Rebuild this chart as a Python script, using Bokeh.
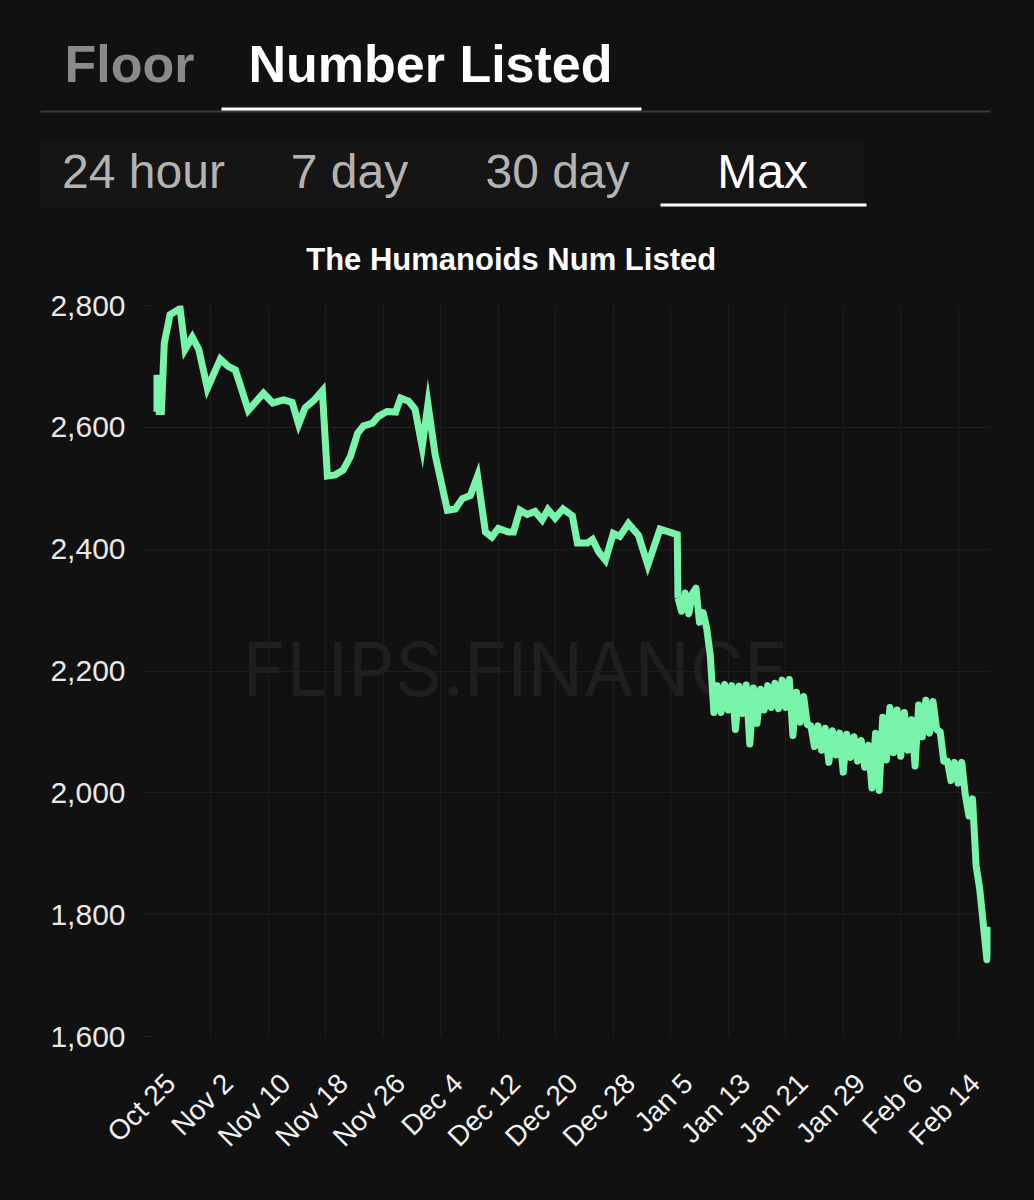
import math
import pandas as pd
from bokeh.plotting import figure
from bokeh.models import (Range1d, FixedTicker, NumeralTickFormatter, Label, BoxAnnotation,
                          DatetimeAxis, Grid)
from bokeh.embed import file_html
from bokeh.resources import INLINE

# ---------------- data ----------------
start_date = "2021-10-25"

# days since Oct 25 (early, roughly daily readings)
early_day_offset = [0.0, 0.3, 0.6, 0.8, 1.1, 1.5, 2.3, 3.7, 4.4, 5.4, 6.3, 7.5, 9.3, 10.4, 11.4,
                    13.2, 15.3, 16.6, 18.1, 19.3, 20.2, 21.1, 22.3, 23.5, 24.2, 25.3, 26.4, 27.4,
                    28.4, 29.2, 30.5, 31.3, 32.5, 33.7, 34.4, 35.5, 36.4, 37.4, 38.2, 39.2, 40.9,
                    42.0, 43.0, 44.1, 45.1, 46.2, 47.1, 48.0, 49.4, 50.1, 51.0, 52.0, 53.1, 54.1,
                    54.9, 55.9, 57.0, 58.3, 59.0, 60.4, 61.1, 62.0, 62.9, 64.0, 64.9, 66.1, 67.5,
                    68.8, 70.5, 72.9]
early_num_listed = [2686, 2626, 2686, 2626, 2626, 2738, 2785, 2795, 2728, 2748, 2728, 2664, 2712,
                    2700, 2694, 2628, 2656, 2640, 2645, 2641, 2605, 2632, 2644, 2660, 2520, 2522,
                    2530, 2552, 2590, 2602, 2607, 2618, 2626, 2625, 2648, 2643, 2630, 2568, 2638,
                    2555, 2464, 2466, 2483, 2488, 2520, 2428, 2420, 2434, 2428, 2428, 2464, 2457,
                    2462, 2448, 2465, 2451, 2466, 2455, 2410, 2410, 2416, 2395, 2382, 2426, 2421,
                    2442, 2423, 2374, 2433, 2424]

# from Jan 6 on, readings every half day (day 73.0 ... 116.5)
late_day_offset = [73.0, 73.5, 74.0, 74.5, 75.0, 75.5, 76.0, 76.5, 77.0, 77.5, 78.0, 78.5, 79.0,
                   79.5, 80.0, 80.5, 81.0, 81.5, 82.0, 82.5, 83.0, 83.5, 84.0, 84.5, 85.0, 85.5,
                   86.0, 86.5, 87.0, 87.5, 88.0, 88.5, 89.0, 89.5, 90.0, 90.5, 91.0, 91.5, 92.0,
                   92.5, 93.0, 93.5, 94.0, 94.5, 95.0, 95.5, 96.0, 96.5, 97.0, 97.5, 98.0, 98.5,
                   99.0, 99.5, 100.0, 100.5, 101.0, 101.5, 102.0, 102.5, 103.0, 103.5, 104.0,
                   104.5, 105.0, 105.5, 106.0, 106.5, 107.0, 107.5, 108.0, 108.5, 109.0, 109.5,
                   110.0, 110.5, 111.0, 111.5, 112.0, 112.5, 113.0, 113.5, 114.0, 114.5, 115.0,
                   115.5, 116.0, 116.5]
late_num_listed = [2320, 2298, 2328, 2294, 2327, 2336, 2280, 2296, 2270, 2225, 2132, 2176, 2132,
                   2178, 2136, 2176, 2104, 2175, 2130, 2177, 2080, 2172, 2114, 2170, 2136, 2176,
                   2140, 2180, 2138, 2185, 2140, 2186, 2094, 2165, 2116, 2158, 2112, 2110, 2076,
                   2110, 2070, 2106, 2050, 2102, 2062, 2098, 2034, 2096, 2058, 2092, 2052, 2086,
                   2042, 2078, 2008, 2098, 2004, 2124, 2054, 2140, 2066, 2136, 2060, 2132, 2070,
                   2120, 2044, 2144, 2092, 2152, 2098, 2150, 2104, 2100, 2052, 2052, 2020, 2050,
                   2016, 2050, 1996, 1962, 1990, 1880, 1842, 1784, 1726, 1780]

x_tick_day_offsets = [0, 8, 16, 24, 32, 40, 48, 56, 64, 72, 80, 88, 96, 104, 112]
x_tick_labels = ["Oct 25", "Nov 2", "Nov 10", "Nov 18", "Nov 26", "Dec 4", "Dec 12", "Dec 20",
                 "Dec 28", "Jan 5", "Jan 13", "Jan 21", "Jan 29", "Feb 6", "Feb 14"]
y_ticks = [1600, 1800, 2000, 2200, 2400, 2600, 2800]

metric_tabs = ["Floor", "Number Listed"]
range_tabs = ["24 hour", "7 day", "30 day", "Max"]
chart_title = "The Humanoids  Num Listed"
watermark = "FLIPS.FINANCE"

# ---------------- styles / geometry (page pixels) ----------------
BG = "#111111"
GRID = "#1e1e1e"
LINE = "#79f4ab"
FONT = "Liberation Sans"
W, H = 1034, 1200
HDR_H = 290                                 # header block height
FL, FR, FT, FB = 153, 990, 305, 1036        # chart frame edges (page px)
BASE_SHIFT = 0.38                           # alphabetic baseline correction (em)

t0 = pd.Timestamp(start_date)
day_offset = early_day_offset + late_day_offset
num_listed = early_num_listed + late_num_listed
dates = [t0 + pd.Timedelta(days=d) for d in day_offset]


def ms(ts):
    return ts.value // 10**6


X_LO, X_HI = ms(dates[0]), ms(dates[-1])
Y_LO, Y_HI = y_ticks[0], y_ticks[-1]

# ---------------- header block (tabs + title), page-pixel coordinates ----------------
hdr = figure(width=W, height=HDR_H, x_range=Range1d(0, W), y_range=Range1d(HDR_H, 0),
             output_backend="svg", toolbar_location=None, tools="",
             x_axis_location=None, y_axis_location=None, min_border=0,
             background_fill_color=BG, border_fill_color=BG, outline_line_color=None)
hdr.grid.visible = False


def hbox(l, r, t, b, color):
    hdr.add_layout(BoxAnnotation(left=l, right=r, top=t, bottom=b,
                                 fill_color=color, fill_alpha=1, line_color=None))


def htext(txt, cx, baseline, size, color, bold=False):
    hdr.add_layout(Label(x=cx, y=baseline - BASE_SHIFT * size, text=txt,
                         text_font=FONT, text_font_size=f"{size}px",
                         text_font_style="bold" if bold else "normal",
                         text_color=color, text_align="center", text_baseline="alphabetic"))


hbox(40, 864, 140, 207, "#151515")
hbox(40, 990, 110, 112, "#3a3a3a")
hbox(221, 641, 107, 110, "#ffffff")
hbox(660, 866, 203, 206, "#ffffff")
for txt, cx, col in zip(metric_tabs, [129, 430], ["#8a8a8a", "#ffffff"]):
    htext(txt, cx, 83, 52, col, bold=True)
for txt, cx, col in zip(range_tabs, [143, 349, 557, 762],
                        ["#b3b3b3", "#b3b3b3", "#b3b3b3", "#ffffff"]):
    htext(txt, cx, 189, 48, col)
htext(chart_title, 515, 271, 31, "#ffffff", bold=True)

# ---------------- chart ----------------
p = figure(width=W, height=H - HDR_H, x_axis_type="datetime", x_axis_location=None,
           x_range=Range1d(X_LO, X_HI), y_range=Range1d(Y_LO, Y_HI),
           output_backend="svg", toolbar_location=None, tools="",
           min_border_left=FL, min_border_right=W - FR, min_border_top=FT - HDR_H,
           min_border_bottom=H - FB,
           background_fill_color=BG, border_fill_color=BG, outline_line_color=None)
for g in p.xgrid:
    g.visible = False

# watermark (centred on the page, behind the line)
wm_size = 74
wm_x = X_LO + (515 - FL) / (FR - FL) * (X_HI - X_LO)
wm_y = Y_HI - ((697 - BASE_SHIFT * wm_size) - FT) / (FB - FT) * (Y_HI - Y_LO)
p.add_layout(Label(x=wm_x, y=wm_y, text=watermark, text_font="Inter",
                   text_font_size=f"{wm_size}px", text_color="#1f1f1f",
                   text_align="center", text_baseline="alphabetic", level="underlay"))

# the series (sharp joins for the daily part, round joins for the dense part)
n_early = len(early_day_offset)
p.line(dates[:n_early + 1], num_listed[:n_early + 1], line_width=7, line_color=LINE,
       line_join="miter")
p.line(dates[n_early:], num_listed[n_early:], line_width=7, line_color=LINE,
       line_join="round")

# x grid at the tick dates; labels on a date axis nudged right like the original
tick_ms = [ms(t0 + pd.Timedelta(days=d)) for d in x_tick_day_offsets]
p.add_layout(Grid(dimension=0, ticker=FixedTicker(ticks=tick_ms), grid_line_color=GRID))

shift = 17 / (FR - FL) * (X_HI - X_LO)
p.extra_x_ranges = {"lab": Range1d(X_LO - shift, X_HI - shift)}
lab_axis = DatetimeAxis(x_range_name="lab", ticker=FixedTicker(ticks=tick_ms),
                        major_label_overrides={t: s for t, s in zip(tick_ms, x_tick_labels)},
                        major_label_orientation=math.pi / 4,
                        major_label_text_font=FONT, major_label_text_font_size="28px",
                        major_label_text_color="#f2f2f2", major_label_standoff=42,
                        major_tick_out=0, major_tick_in=0, major_tick_line_color=None,
                        minor_tick_line_color=None, axis_line_color=None)
p.add_layout(lab_axis, "below")

p.yaxis.ticker = FixedTicker(ticks=y_ticks)
p.yaxis.formatter = NumeralTickFormatter(format="0,0")
p.yaxis.major_label_text_font = FONT
p.yaxis.major_label_text_font_size = "30px"
p.yaxis.major_label_text_color = "#e8e8e8"
p.yaxis.major_tick_out = 10
p.yaxis.major_tick_in = 0
p.yaxis.major_tick_line_color = GRID
p.yaxis.minor_tick_line_color = None
p.yaxis.axis_line_color = None
p.yaxis.major_label_standoff = 18
p.ygrid.grid_line_color = GRID

html = file_html([hdr, p], INLINE, title="The Humanoids Num Listed")
html = html.replace("<head>", "<head><style>html,body{background:#111111;}</style>", 1)
open("out.html", "w").write(html)
